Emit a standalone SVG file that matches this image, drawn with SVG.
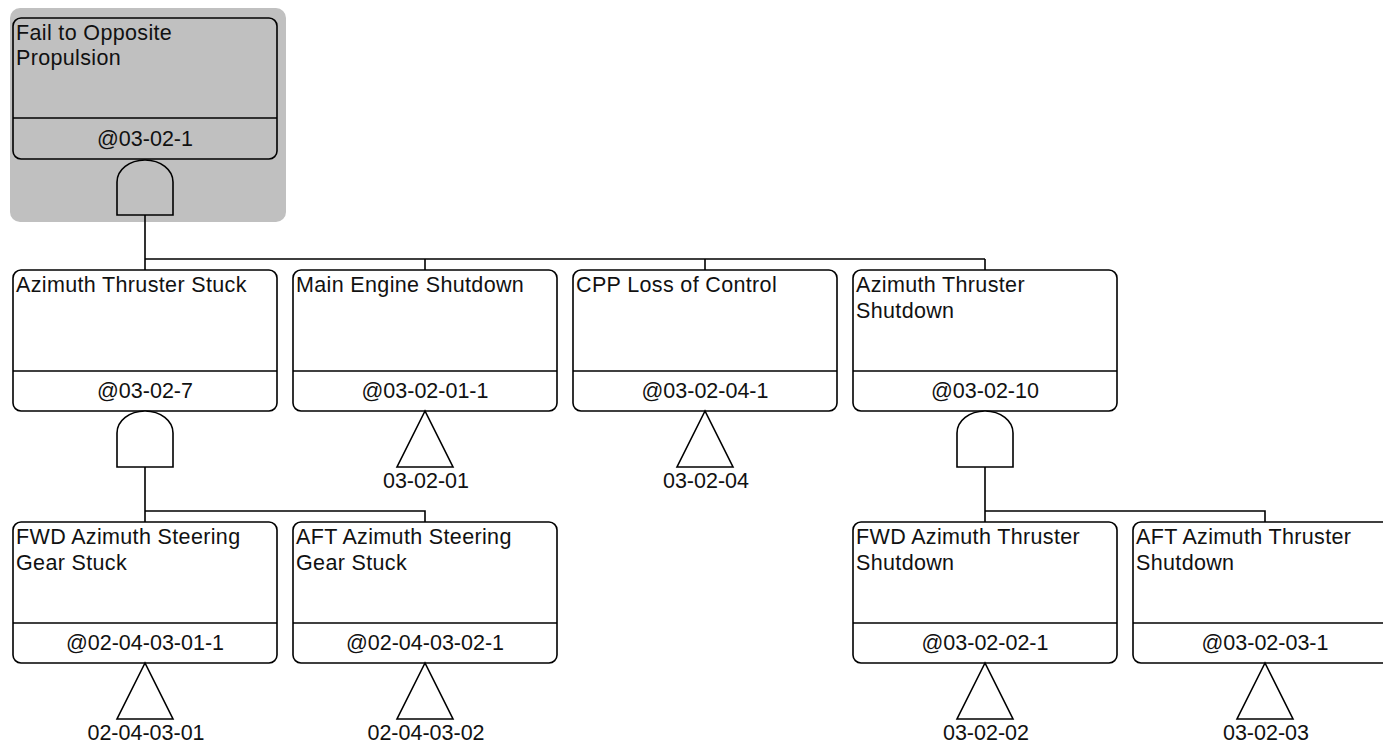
<svg xmlns="http://www.w3.org/2000/svg" width="1383" height="747" viewBox="0 0 1383 747">
<style>
.box{fill:#fff;stroke:#000;stroke-width:1.6}
.div{stroke:#000;stroke-width:1.6}
.t{font-family:"Liberation Sans",Arial,sans-serif;font-size:21.5px;fill:#111}
.n{letter-spacing:0.35px}
.c{text-anchor:middle}
.gate{fill:#fff;stroke:#000;stroke-width:1.6}
.line{stroke:#000;stroke-width:1.6;fill:none}
</style>
<rect x="10" y="8" width="276" height="214" rx="10" fill="#c0c0c0"/>
<g id="connectors">
<path class="line" d="M145,215V259M145,259H985M145,259V270M425,259V270M705,259V270M985,259V270"/>
<path class="line" d="M145,467V522M145,511H425V522"/>
<path class="line" d="M985,467V522M985,511H1265V522"/>
</g>
<g id="n1">
<rect class="box" x="13" y="18" width="264" height="141" rx="8" style="fill:#c0c0c0"/>
<line class="div" x1="13" y1="118" x2="277" y2="118"/>
<text class="t n" x="16" y="40">Fail to Opposite</text>
<text class="t n" x="16" y="65">Propulsion</text>
<text class="t c" x="145" y="146">@03-02-1</text>
<path class="gate" style="fill:none" d="M117,215V182A28,22 0 0 1 173,182V215Z"/>
</g>
<g id="n2">
<rect class="box" x="13" y="270" width="264" height="141" rx="8"/>
<line class="div" x1="13" y1="371" x2="277" y2="371"/>
<text class="t n" x="16" y="292">Azimuth Thruster Stuck</text>
<text class="t c" x="145" y="398">@03-02-7</text>
<path class="gate" d="M117,467V433A28,22 0 0 1 173,433V467Z"/>
</g>
<g id="n3">
<rect class="box" x="293" y="270" width="264" height="141" rx="8"/>
<line class="div" x1="293" y1="371" x2="557" y2="371"/>
<text class="t n" x="296" y="292">Main Engine Shutdown</text>
<text class="t c" x="425" y="398">@03-02-01-1</text>
<polygon class="gate" points="425,411 397,467 453,467"/>
<text class="t c" x="426" y="488">03-02-01</text>
</g>
<g id="n4">
<rect class="box" x="573" y="270" width="264" height="141" rx="8"/>
<line class="div" x1="573" y1="371" x2="837" y2="371"/>
<text class="t n" x="576" y="292">CPP Loss of Control</text>
<text class="t c" x="705" y="398">@03-02-04-1</text>
<polygon class="gate" points="705,411 677,467 733,467"/>
<text class="t c" x="706" y="488">03-02-04</text>
</g>
<g id="n5">
<rect class="box" x="853" y="270" width="264" height="141" rx="8"/>
<line class="div" x1="853" y1="371" x2="1117" y2="371"/>
<text class="t n" x="856" y="292">Azimuth Thruster</text>
<text class="t n" x="856" y="318">Shutdown</text>
<text class="t c" x="985" y="398">@03-02-10</text>
<path class="gate" d="M957,467V433A28,22 0 0 1 1013,433V467Z"/>
</g>
<g id="n6">
<rect class="box" x="13" y="522" width="264" height="141" rx="8"/>
<line class="div" x1="13" y1="623" x2="277" y2="623"/>
<text class="t n" x="16" y="544">FWD Azimuth Steering</text>
<text class="t n" x="16" y="570">Gear Stuck</text>
<text class="t c" x="145" y="650">@02-04-03-01-1</text>
<polygon class="gate" points="145,663 117,719 173,719"/>
<text class="t c" x="146" y="740">02-04-03-01</text>
</g>
<g id="n7">
<rect class="box" x="293" y="522" width="264" height="141" rx="8"/>
<line class="div" x1="293" y1="623" x2="557" y2="623"/>
<text class="t n" x="296" y="544">AFT Azimuth Steering</text>
<text class="t n" x="296" y="570">Gear Stuck</text>
<text class="t c" x="425" y="650">@02-04-03-02-1</text>
<polygon class="gate" points="425,663 397,719 453,719"/>
<text class="t c" x="426" y="740">02-04-03-02</text>
</g>
<g id="n8">
<rect class="box" x="853" y="522" width="264" height="141" rx="8"/>
<line class="div" x1="853" y1="623" x2="1117" y2="623"/>
<text class="t n" x="856" y="544">FWD Azimuth Thruster</text>
<text class="t n" x="856" y="570">Shutdown</text>
<text class="t c" x="985" y="650">@03-02-02-1</text>
<polygon class="gate" points="985,663 957,719 1013,719"/>
<text class="t c" x="986" y="740">03-02-02</text>
</g>
<g id="n9">
<rect class="box" x="1133" y="522" width="264" height="141" rx="8"/>
<line class="div" x1="1133" y1="623" x2="1397" y2="623"/>
<text class="t n" x="1136" y="544">AFT Azimuth Thruster</text>
<text class="t n" x="1136" y="570">Shutdown</text>
<text class="t c" x="1265" y="650">@03-02-03-1</text>
<polygon class="gate" points="1265,663 1237,719 1293,719"/>
<text class="t c" x="1266" y="740">03-02-03</text>
</g>
</svg>
